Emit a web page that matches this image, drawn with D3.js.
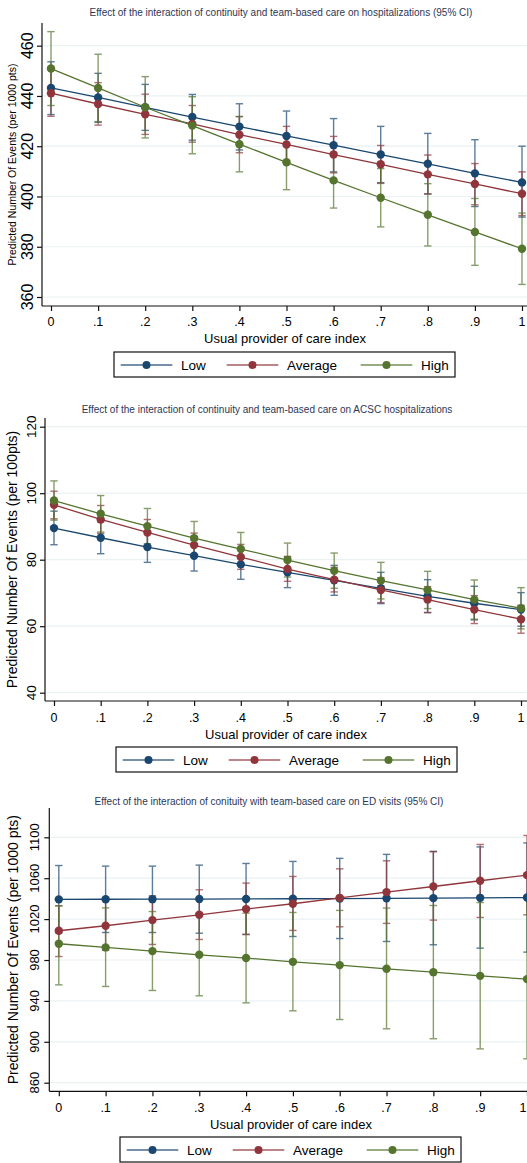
<!DOCTYPE html>
<html>
<head>
<meta charset="utf-8">
<script src="https://cdn.jsdelivr.net/npm/d3@7"></script>
<style>
  body { margin: 0; background: #fff; }
  svg { display: block; font-family: Arial, "Liberation Sans", sans-serif; }
</style>
</head>
<body>
<div id="fig"></div>
<script>
// x values and their labels (usual provider of care index)
var upcIndex = [0, 0.1, 0.2, 0.3, 0.4, 0.5, 0.6, 0.7, 0.8, 0.9, 1];
var upcLabels = ["0", ".1", ".2", ".3", ".4", ".5", ".6", ".7", ".8", ".9", "1"];

var groups = ["Low", "Average", "High"];
var groupColors = ["#1a476f", "#90353b", "#55752f"];

// hospitalizations (per 1000 pts)
var hospLow    = [443.2, 439.4, 435.5, 431.6, 427.8, 424.1, 420.4, 416.7, 413.0, 409.2, 405.6];
var hospLowLo  = [432.6, 429.5, 426.3, 422.4, 418.5, 414.3, 409.8, 405.5, 401.0, 396.0, 391.8];
var hospLowHi  = [453.6, 449.0, 444.6, 440.6, 436.9, 434.0, 431.0, 427.9, 425.1, 422.6, 420.0];
var hospAvg    = [441.1, 436.8, 432.7, 428.9, 424.6, 420.7, 416.7, 412.8, 408.8, 405.0, 401.1];
var hospAvgLo  = [431.9, 428.4, 424.7, 421.6, 417.4, 413.4, 409.4, 405.2, 401.0, 396.7, 392.4];
var hospAvgHi  = [450.4, 445.3, 440.7, 436.2, 431.8, 427.9, 423.9, 420.3, 416.5, 413.1, 409.8];
var hospHigh   = [450.9, 443.2, 435.5, 428.2, 420.8, 413.6, 406.4, 399.5, 392.7, 385.9, 379.2];
var hospHighLo = [436.2, 429.8, 423.3, 417.0, 409.8, 402.7, 395.4, 387.9, 380.3, 372.6, 365.0];
var hospHighHi = [465.6, 456.6, 447.7, 439.7, 431.8, 424.4, 417.5, 411.1, 405.1, 399.2, 393.4];
var hospTicks  = [360, 380, 400, 420, 440, 460];

// ACSC hospitalizations (per 100 pts)
var acscLow    = [89.5, 86.6, 83.8, 81.2, 78.6, 76.2, 73.8, 71.4, 69.0, 66.9, 65.0];
var acscLowLo  = [84.5, 81.8, 79.2, 76.6, 74.1, 71.6, 69.3, 66.8, 64.1, 61.9, 60.0];
var acscLowHi  = [94.6, 91.4, 88.4, 85.8, 83.1, 80.8, 78.3, 76.2, 74.0, 72.0, 70.1];
var acscAvg    = [96.5, 92.1, 88.2, 84.4, 80.8, 77.2, 74.0, 70.9, 68.0, 65.0, 62.1];
var acscAvgLo  = [92.3, 87.9, 84.3, 80.8, 77.1, 73.5, 70.3, 67.1, 64.1, 60.8, 57.9];
var acscAvgHi  = [100.6, 96.3, 92.1, 88.0, 84.6, 81.0, 77.7, 74.6, 71.9, 69.2, 66.3];
var acscHigh   = [97.8, 93.8, 90.1, 86.5, 83.2, 79.9, 76.7, 73.7, 70.9, 68.0, 65.4];
var acscHighLo = [91.9, 88.3, 84.8, 81.5, 78.2, 74.8, 71.4, 68.2, 65.3, 62.1, 59.2];
var acscHighHi = [103.7, 99.3, 95.4, 91.5, 88.2, 85.0, 82.0, 79.2, 76.5, 73.9, 71.6];
var acscTicks  = [40, 60, 80, 100, 120];

// ED visits (per 1000 pts)
var edLow    = [1039.3, 1039.4, 1039.5, 1039.6, 1039.7, 1039.9, 1040.1, 1040.3, 1040.5, 1040.8, 1041.1];
var edLowLo  = [1006.5, 1006.9, 1006.9, 1006.2, 1005.0, 1003.0, 1001.0, 998.1, 994.9, 991.6, 987.7];
var edLowHi  = [1072.4, 1071.8, 1071.8, 1072.8, 1074.4, 1076.4, 1079.4, 1083.3, 1086.3, 1090.6, 1094.5];
var edAvg    = [1008.6, 1013.5, 1019.0, 1024.2, 1029.8, 1035.0, 1040.8, 1046.4, 1051.9, 1057.5, 1063.0];
var edAvgLo  = [983.4, 989.5, 995.2, 1000.1, 1005.0, 1008.9, 1012.5, 1015.8, 1019.0, 1021.6, 1024.2];
var edAvgHi  = [1033.0, 1038.0, 1042.8, 1048.7, 1055.2, 1061.7, 1069.2, 1077.0, 1085.8, 1093.0, 1101.8];
var edHigh   = [995.9, 992.3, 988.7, 985.1, 981.9, 978.2, 975.0, 971.4, 968.1, 964.5, 961.3];
var edHighLo = [955.7, 954.1, 950.2, 945.0, 938.1, 930.3, 921.8, 912.7, 903.0, 893.1, 883.4];
var edHighHi = [1033.0, 1031.0, 1027.4, 1026.0, 1025.8, 1026.5, 1028.5, 1030.8, 1033.3, 1036.2, 1040.0];
var edTicks  = [860, 900, 940, 980, 1020, 1060, 1100];

// panel layouts (pixel geometry only)
var panels = [
  { title: "Effect of the interaction of continuity and team-based care on hospitalizations (95% CI)",
    yTitle: "Predicted Number Of Events (per 1000 pts)", yTitleSize: 10.5, yTickSize: 16,
    ticks: hospTicks,
    series: [[hospLow, hospLowLo, hospLowHi], [hospAvg, hospAvgLo, hospAvgHi], [hospHigh, hospHighLo, hospHighHi]],
    titleY: 12, titleX: 281, top: 23, bottom: 306, left: 42, x0: 51, x1: 522, yLo: 297, yHi: 45.7,
    yTitleX: 12, yTickX: 27.5, xTickY: 322, xTitleY: 338, xTitleX: 285, legendX: 114, legendY: 352 },
  { title: "Effect of the interaction of continuity and team-based care on ACSC hospitalizations",
    yTitle: "Predicted Number Of Events (per 100pts)", yTitleSize: 14, yTickSize: 13.5,
    ticks: acscTicks,
    series: [[acscLow, acscLowLo, acscLowHi], [acscAvg, acscAvgLo, acscAvgHi], [acscHigh, acscHighLo, acscHighHi]],
    titleY: 409, titleX: 267, top: 418, bottom: 701, left: 45, x0: 54, x1: 521, yLo: 692.7, yHi: 426.7,
    yTitleX: 12, yTickX: 31, xTickY: 718, xTitleY: 734, xTitleX: 286, legendX: 116, legendY: 747 },
  { title: "Effect of the interaction of conituity with team-based care on ED visits (95% CI)",
    yTitle: "Predicted Number Of Events (per 1000 pts)", yTitleSize: 14, yTickSize: 13,
    ticks: edTicks,
    series: [[edLow, edLowLo, edLowHi], [edAvg, edAvgLo, edAvgHi], [edHigh, edHighLo, edHighHi]],
    titleY: 801, titleX: 269, top: 808, bottom: 1091.3, left: 49.3, x0: 58.8, x1: 527, yLo: 1082.7, yHi: 837.3,
    yTitleX: 13, yTickX: 34, xTickY: 1108, xTitleY: 1124, xTitleX: 291, legendX: 120, legendY: 1137 }
];

var svg = d3.select("#fig")
  .append("svg")
  .attr("width", 527)
  .attr("height", 1163);

function drawPanel(p) {
  var g = svg.append("g");

  var x = d3.scaleLinear().domain([0, 1]).range([p.x0, p.x1]);
  var y = d3.scaleLinear().domain([p.ticks[0], p.ticks[p.ticks.length - 1]]).range([p.yLo, p.yHi]);

  // title
  g.append("text")
    .attr("x", p.titleX).attr("y", p.titleY)
    .attr("text-anchor", "middle").attr("dominant-baseline", "central")
    .style("font-size", "10px").style("fill", "#2c3756")
    .text(p.title);

  // gridlines
  g.selectAll(".grid")
    .data(p.ticks)
    .enter()
    .append("line")
    .attr("x1", p.left + 1).attr("x2", 527)
    .attr("y1", function(d) { return y(d); })
    .attr("y2", function(d) { return y(d); })
    .style("stroke", "#eaf2f3").style("stroke-width", 1.2);

  // y axis
  var yAxis = g.append("g")
    .attr("transform", "translate(" + p.left + ",0)")
    .call(d3.axisLeft(y).tickValues(p.ticks).tickSize(5).tickFormat(""));
  yAxis.select(".domain").attr("d", "M0," + p.top + "V" + p.bottom);
  yAxis.selectAll("line, path").style("stroke", "#111").style("stroke-width", 1.2);

  g.selectAll(".ytick")
    .data(p.ticks)
    .enter()
    .append("text")
    .attr("transform", function(d) { return "translate(" + p.yTickX + "," + y(d) + ") rotate(-90)"; })
    .attr("text-anchor", "middle").attr("dominant-baseline", "central")
    .style("font-size", p.yTickSize + "px").style("fill", "#000")
    .text(function(d) { return d; });

  // x axis
  var xAxis = g.append("g")
    .attr("transform", "translate(0," + p.bottom + ")")
    .call(d3.axisBottom(x).tickValues(upcIndex).tickSize(5).tickFormat(""));
  xAxis.select(".domain").attr("d", "M" + p.left + ",0H527");
  xAxis.selectAll("line, path").style("stroke", "#111").style("stroke-width", 1.2);

  g.selectAll(".xtick")
    .data(upcIndex)
    .enter()
    .append("text")
    .attr("x", function(d) { return Math.min(x(d), 523); })
    .attr("y", p.xTickY)
    .attr("text-anchor", "middle").attr("dominant-baseline", "central")
    .style("font-size", "12.5px").style("fill", "#000")
    .text(function(d, i) { return upcLabels[i]; });

  g.append("text")
    .attr("x", p.xTitleX).attr("y", p.xTitleY)
    .attr("text-anchor", "middle").attr("dominant-baseline", "central")
    .style("font-size", "13px").style("fill", "#000")
    .text("Usual provider of care index");

  // y title
  g.append("text")
    .attr("transform", "translate(" + p.yTitleX + "," + ((p.top + p.bottom) / 2) + ") rotate(-90)")
    .attr("text-anchor", "middle").attr("dominant-baseline", "central")
    .style("font-size", p.yTitleSize + "px").style("fill", "#000")
    .text(p.yTitle);

  // confidence intervals (capped spikes)
  p.series.forEach(function(s, k) {
    var col = groupColors[k];
    var ci = g.append("g").style("stroke", col).style("stroke-width", 1.4).style("opacity", 0.7);
    upcIndex.forEach(function(v, i) {
      ci.append("line").attr("x1", x(v)).attr("x2", x(v)).attr("y1", y(s[1][i])).attr("y2", y(s[2][i]));
      ci.append("line").attr("x1", x(v) - 3.7).attr("x2", x(v) + 3.7).attr("y1", y(s[1][i])).attr("y2", y(s[1][i]));
      ci.append("line").attr("x1", x(v) - 3.7).attr("x2", x(v) + 3.7).attr("y1", y(s[2][i])).attr("y2", y(s[2][i]));
    });
  });

  // connected lines and markers
  var line = d3.line()
    .x(function(d, i) { return x(upcIndex[i]); })
    .y(function(d) { return y(d); });

  p.series.forEach(function(s, k) {
    var col = groupColors[k];
    g.append("path")
      .datum(s[0])
      .attr("d", line)
      .style("fill", "none").style("stroke", col).style("stroke-width", 1.3);
    g.selectAll(".pt" + k)
      .data(s[0])
      .enter()
      .append("circle")
      .attr("cx", function(d, i) { return x(upcIndex[i]); })
      .attr("cy", function(d) { return y(d); })
      .attr("r", 4.2)
      .style("fill", col);
  });

  // legend
  var lg = g.append("g").attr("transform", "translate(" + p.legendX + "," + p.legendY + ")");
  lg.append("rect")
    .attr("x", 0).attr("y", 0).attr("width", 341).attr("height", 25)
    .style("fill", "#fff").style("stroke", "#111").style("stroke-width", 1.2);
  var offsets = [0, 106, 240];
  groups.forEach(function(name, k) {
    var ox = offsets[k];
    lg.append("line")
      .attr("x1", ox + 6.7).attr("x2", ox + 58.3).attr("y1", 13).attr("y2", 13)
      .style("stroke", groupColors[k]).style("stroke-width", 2).style("opacity", 0.6);
    lg.append("circle")
      .attr("cx", ox + 32.5).attr("cy", 13).attr("r", 4)
      .style("fill", groupColors[k]);
    lg.append("text")
      .attr("x", ox + 67).attr("y", 13.5)
      .attr("dominant-baseline", "central")
      .style("font-size", "13.5px").style("fill", "#000")
      .text(name);
  });
}

panels.forEach(drawPanel);
</script>
</body>
</html>
